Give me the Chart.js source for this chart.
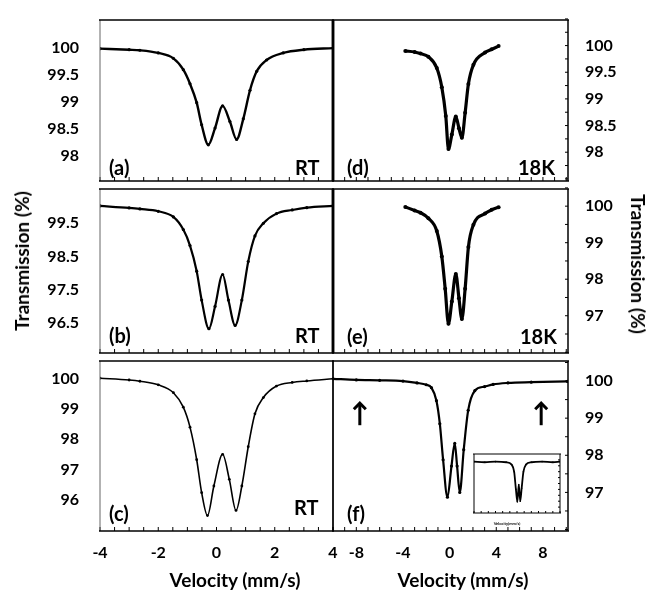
<!DOCTYPE html>
<html>
<head>
<meta charset="utf-8">
<title>Mössbauer spectra</title>
<script src="https://cdn.jsdelivr.net/npm/chart.js"></script>
<style>
body { margin: 0; background: #fff; }
#wrap { position: relative; width: 655px; height: 591px; background: #fff; overflow: hidden; font-family: Lato, 'Open Sans', sans-serif; font-weight: 700; color: #000; }
canvas { position: absolute; }
.lbl { position: absolute; font-size: 20px; line-height: 20px; white-space: nowrap; }
.ttl { position: absolute; font-size: 19px; line-height: 20px; white-space: nowrap; transform: translate(-50%, -50%); }
</style>
</head>
<body>
<div id="wrap">
  <canvas id="cA" width="310" height="169" style="left:30px;top:16px"></canvas>
  <canvas id="cB" width="310" height="172" style="left:30px;top:185px"></canvas>
  <canvas id="cC" width="310" height="234" style="left:30px;top:357px"></canvas>
  <canvas id="cD" width="355" height="169" style="left:300px;top:16px"></canvas>
  <canvas id="cE" width="355" height="172" style="left:300px;top:185px"></canvas>
  <canvas id="cF" width="355" height="234" style="left:300px;top:357px"></canvas>
  <canvas id="cI" width="95" height="68" style="left:470px;top:450px"></canvas>

  <div class="lbl" style="left:109px;top:157px">(a)</div>
  <div class="lbl" style="left:295px;top:157px">RT</div>
  <div class="lbl" style="left:109px;top:325px">(b)</div>
  <div class="lbl" style="left:295px;top:325px">RT</div>
  <div class="lbl" style="left:109px;top:503px">(c)</div>
  <div class="lbl" style="left:294px;top:497px">RT</div>
  <div class="lbl" style="left:347px;top:157px">(d)</div>
  <div class="lbl" style="left:518px;top:157px">18K</div>
  <div class="lbl" style="left:347px;top:326px">(e)</div>
  <div class="lbl" style="left:520px;top:326px">18K</div>
  <div class="lbl" style="left:347px;top:503px">(f)</div>
  <div style="position:absolute;left:507px;top:524px;transform:translate(-50%,-50%);font-size:4px;line-height:4px;white-space:nowrap">Velocity(mm/s)</div>

  <div class="ttl" style="left:22px;top:261px;transform:translate(-50%,-50%) rotate(-90deg)">Transmission (%)</div>
  <div class="ttl" style="left:638px;top:264px;transform:translate(-50%,-50%) rotate(90deg)">Transmission (%)</div>
  <div class="ttl" style="left:235px;top:580px">Velocity (mm/s)</div>
  <div class="ttl" style="left:463px;top:580px">Velocity (mm/s)</div>
</div>
<script>
// readings (velocity mm/s, transmission %)
const velA = [-4, -3, -2.63, -2, -1.48, -1.14, -0.91, -0.68, -0.51, -0.28, -0.05, 0.21, 0.46, 0.69, 0.92, 1.15, 1.38, 1.72, 2.29, 3, 4];
const trA  = [99.98, 99.96, 99.95, 99.9, 99.8, 99.59, 99.33, 98.98, 98.57, 98.2, 98.51, 98.92, 98.63, 98.3, 98.68, 99.21, 99.56, 99.77, 99.9, 99.96, 99.99];

const velB = [-4, -3, -2.63, -2, -1.48, -1.14, -0.91, -0.68, -0.51, -0.26, -0.05, 0.21, 0.41, 0.64, 0.87, 1.09, 1.32, 1.61, 2.06, 2.6, 3.1, 4];
const trB  = [100.02, 99.96, 99.93, 99.86, 99.69, 99.31, 98.83, 98.06, 97.19, 96.33, 97.0, 97.96, 97.19, 96.43, 97.19, 98.35, 99.12, 99.5, 99.79, 99.9, 99.97, 100.02];

const velC = [-4, -3, -2.63, -2, -1.48, -1.14, -0.91, -0.68, -0.51, -0.31, -0.09, 0.21, 0.44, 0.67, 0.87, 1.09, 1.32, 1.61, 2.06, 2.6, 3.1, 4];
const trC  = [100.02, 99.96, 99.92, 99.8, 99.54, 99.06, 98.4, 97.32, 96.23, 95.47, 96.45, 97.5, 96.67, 95.64, 96.45, 97.75, 98.84, 99.38, 99.76, 99.88, 99.93, 100.0];

const velD = [-3.8, -3, -2.5, -1.82, -1.1, -0.67, -0.33, -0.1, 0.19, 0.53, 0.8, 1.05, 1.33, 1.61, 2.04, 3.04, 3.6, 4.2];
const trD  = [99.9, 99.88, 99.85, 99.79, 99.58, 99.22, 98.68, 98.06, 98.33, 98.67, 98.45, 98.27, 98.74, 99.28, 99.64, 99.87, 99.93, 99.99];

const velE = [-3.8, -3, -2.5, -1.82, -1.1, -0.67, -0.38, -0.1, 0.19, 0.53, 0.8, 1.05, 1.33, 1.61, 2.04, 3.04, 3.6, 4.2];
const trE  = [99.98, 99.88, 99.82, 99.67, 99.32, 98.62, 97.74, 96.78, 97.39, 98.14, 97.48, 96.91, 97.74, 98.88, 99.49, 99.8, 99.9, 99.97];

const velF = [-10, -8, -6, -4, -2.8, -2, -1.56, -1.13, -0.84, -0.56, -0.19, 0.16, 0.44, 0.64, 0.87, 1.21, 1.59, 2.16, 3, 3.73, 5, 7, 10.1];
const trF  = [100.06, 100.03, 100.02, 100.0, 99.95, 99.9, 99.82, 99.47, 98.85, 97.88, 96.87, 97.71, 98.32, 97.71, 97.0, 98.15, 99.21, 99.74, 99.85, 99.91, 99.95, 99.97, 99.99];

const velInset = [-12, -9, -6, -3, -1.5, -0.8, -0.3, 0.1, 0.5, 0.9, 1.3, 1.8, 2.5, 4, 7, 10, 12];
const trInset  = [99.85, 99.8, 99.85, 99.8, 99.6, 99.0, 97.5, 96.45, 97.9, 96.5, 97.6, 99.0, 99.6, 99.8, 99.85, 99.8, 99.85];

// tick labels
const xTicksLeft  = [-4, -2, 0, 2, 4];
const xTicksRight = [-8, -4, 0, 4, 8];
const yTicksA = [98, 98.5, 99, 99.5, 100];
const yTicksB = [96.5, 97.5, 98.5, 99.5];
const yTicksC = [96, 97, 98, 99, 100];
const yTicksD = [98, 98.5, 99, 99.5, 100];
const yTicksE = [97, 98, 99, 100];
const yTicksF = [97, 98, 99, 100];

const FONT = "Lato, 'Open Sans', sans-serif";
Chart.defaults.font.family = FONT;
Chart.defaults.font.weight = 'bold';
Chart.defaults.color = '#000';

// frame lines, inward ticks and arrows
const panelFrame = {
  id: 'panelFrame',
  afterDatasetsDraw(chart, args, o) {
    const {ctx, chartArea: a, scales: {x, y}} = chart;
    const H = chart.height;
    const seg = (x1, y1, x2, y2, lw, col) => {
      ctx.beginPath(); ctx.lineWidth = lw; ctx.strokeStyle = col || '#000';
      ctx.moveTo(x1, y1); ctx.lineTo(x2, y2); ctx.stroke();
    };
    ctx.save();
    if (o.xTicks) {
      const t = o.xTicks;
      for (let v = t.from; v <= t.to + 1e-6; v += t.step) {
        const px = x.getPixelForValue(v);
        seg(px, a.bottom, px, a.bottom - t.len, 1);
      }
    }
    if (o.yTicks) {
      const t = o.yTicks;
      for (let v = t.from; v <= t.to + 1e-6; v += t.step) {
        const py = y.getPixelForValue(v);
        if (t.side === 'right') seg(a.right, py, a.right - t.len, py, 1);
        else seg(a.left, py, a.left + t.len, py, 1);
      }
    }
    const e = o.edges || {};
    const L = a.left, R = a.right, T = Math.max(a.top, 0.75), B = Math.min(a.bottom, H - 0.75);
    if (e.left) seg(L, T, L, B, e.left[0], e.left[1]);
    if (e.right) seg(R, T, R, B, e.right[0], e.right[1]);
    if (e.top) seg(L - 1, T, R + 1, T, e.top[0], e.top[1]);
    if (e.bottom) seg(L - 1, B, R + 1, B, e.bottom[0], e.bottom[1]);
    (o.arrows || []).forEach(ar => {
      const px = x.getPixelForValue(ar.x), p1 = y.getPixelForValue(ar.from), p2 = y.getPixelForValue(ar.to);
      seg(px, p1, px, p2 + 2, 3);
      ctx.beginPath(); ctx.lineWidth = 3; ctx.lineJoin = 'miter';
      ctx.moveTo(px - 6, p2 + 7); ctx.lineTo(px, p2 + 1); ctx.lineTo(px + 6, p2 + 7); ctx.stroke();
    });
    ctx.restore();
  }
};

function makePanel(id, vel, tr, o) {
  return new Chart(document.getElementById(id), {
    type: 'scatter',
    data: {
      datasets: [{
        data: vel.map((v, i) => ({x: v, y: tr[i]})),
        showLine: true,
        borderColor: '#000',
        backgroundColor: '#000',
        borderWidth: o.lw,
        pointRadius: o.pr,
        pointBorderWidth: 0,
        cubicInterpolationMode: 'monotone'
      }]
    },
    options: {
      responsive: false,
      animation: false,
      events: [],
      layout: {padding: o.pad},
      plugins: {legend: {display: false}, tooltip: {enabled: false}, panelFrame: o.frame},
      scales: {
        x: {
          type: 'linear', min: o.x[0], max: o.x[1],
          display: !!o.xTicks,
          grid: {display: false, drawTicks: false},
          border: {display: false},
          afterBuildTicks: s => { if (o.xTicks) s.ticks = o.xTicks.map(v => ({value: v})); },
          afterFit: s => { s.height = o.xh || 0; s.paddingLeft = 0; s.paddingRight = 0; },
          ticks: {padding: 12, font: {size: 16, weight: 'bold'}, color: '#000', maxRotation: 0, autoSkip: false, callback: v => String(v)}
        },
        y: {
          type: 'linear', position: o.yPos || 'left', min: o.y[0], max: o.y[1],
          display: !!o.yTicks,
          grid: {display: false, drawTicks: false},
          border: {display: false},
          afterBuildTicks: s => { if (o.yTicks) s.ticks = o.yTicks.map(v => ({value: v})); },
          afterFit: s => { s.width = o.yw || 0; s.paddingTop = 0; s.paddingBottom = 0; },
          ticks: {padding: o.yPad, font: {size: 16, weight: 'bold'}, color: '#000', autoSkip: false, callback: v => String(v)}
        }
      }
    },
    plugins: [panelFrame]
  });
}

const thin = [1, '#666'];
const blk = [1.5, '#000'];
const thick = [2.5, '#000'];

makePanel('cA', velA, trA, {
  x: [-4, 4], y: [97.53, 100.51], yTicks: yTicksA, yw: 70, yPad: 21,
  pad: {right: 7}, lw: 2.4, pr: 1.6,
  frame: {edges: {top: blk, right: thick, bottom: blk, left: thin}, xTicks: {from: -4, to: 4, step: 0.5, len: 4}}
});
makePanel('cB', velB, trB, {
  x: [-4, 4], y: [95.6, 100.53], yTicks: yTicksB, yw: 70, yPad: 21,
  pad: {right: 7}, lw: 2.2, pr: 1.6,
  frame: {edges: {top: blk, right: thick, bottom: blk, left: thin}, xTicks: {from: -4, to: 4, step: 0.5, len: 4}}
});
makePanel('cC', velC, trC, {
  x: [-4, 4], y: [94.96, 100.59], yTicks: yTicksC, yw: 70, yPad: 21, xTicks: xTicksLeft, xh: 60,
  pad: {right: 7}, lw: 1.6, pr: 1.4,
  frame: {edges: {top: blk, right: [1, '#000'], bottom: blk, left: thin}, xTicks: {from: -4, to: 4, step: 0.5, len: 4}}
});
makePanel('cD', velD, trD, {
  x: [-10, 10.15], y: [97.46, 100.48], yTicks: yTicksD, yPos: 'right', yw: 87, yPad: 17,
  pad: {left: 33}, lw: 3.2, pr: 2,
  frame: {edges: {top: blk, left: thick, right: blk, bottom: blk}, xTicks: {from: -10, to: 10, step: 1, len: 4}, yTicks: {from: 97.5, to: 100.5, step: 0.25, len: 3, side: 'right'}}
});
makePanel('cE', velE, trE, {
  x: [-10, 10.15], y: [95.98, 100.47], yTicks: yTicksE, yPos: 'right', yw: 87, yPad: 17,
  pad: {left: 33}, lw: 3.2, pr: 2,
  frame: {edges: {top: blk, left: thick, right: blk, bottom: blk}, xTicks: {from: -10, to: 10, step: 1, len: 4}, yTicks: {from: 96, to: 100.5, step: 0.5, len: 3, side: 'right'}}
});
makePanel('cF', velF, trF, {
  x: [-10, 10.15], y: [95.96, 100.54], yTicks: yTicksF, yPos: 'right', yw: 87, yPad: 17, xTicks: xTicksRight, xh: 60,
  pad: {left: 33}, lw: 2.2, pr: 1.6,
  frame: {
    edges: {top: blk, left: blk, right: blk, bottom: blk},
    xTicks: {from: -10, to: 10, step: 1, len: 4},
    yTicks: {from: 96, to: 100.5, step: 0.5, len: 3, side: 'right'},
    arrows: [{x: -7.7, from: 98.81, to: 99.43}, {x: 7.85, from: 98.81, to: 99.43}]
  }
});
makePanel('cI', velInset, trInset, {
  x: [-12, 12], y: [95.5, 100.5],
  pad: {left: 4, right: 5, top: 4, bottom: 5}, lw: 1.8, pr: 0.8,
  frame: {edges: {top: [1, '#000'], left: [1, '#000'], right: [1, '#000'], bottom: [1, '#000']}, xTicks: {from: -12, to: 12, step: 2, len: 2}, yTicks: {from: 96, to: 100, step: 0.5, len: 2, side: 'right'}}
});
</script>
</body>
</html>
